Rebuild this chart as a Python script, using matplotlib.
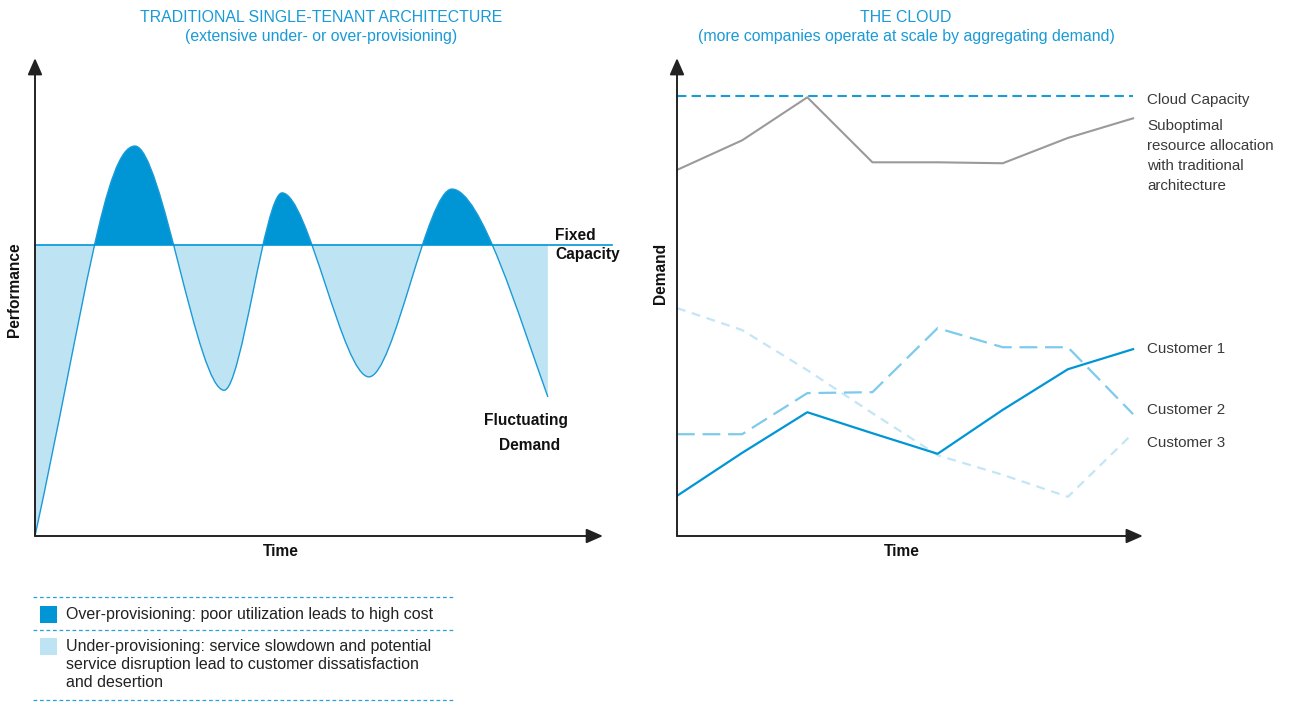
import matplotlib
matplotlib.use("Agg")
import matplotlib.pyplot as plt
from matplotlib.path import Path
from matplotlib.patches import PathPatch, Rectangle

# left panel: fluctuating demand, key points (time, performance)
demand_t = [0, 17.6, 33.3, 43.5, 58.8, 73.4, 90.3]
demand_p = [0, 81.6, 30.5, 71.8, 33.3, 72.6, 29.1]
fixed_capacity = 60.9

# right panel: demand per period
periods = [0, 1, 2, 3, 4, 5, 6, 7]
cloud_capacity = 92.1
suboptimal = [76.6, 82.8, 91.8, 78.2, 78.2, 78.0, 83.3, 87.4]
customer1 = [8.4, 17.4, 25.9, 21.5, 17.2, 26.4, 34.9, 39.1]
customer2 = [21.3, 21.3, 29.9, 30.1, 43.5, 39.5, 39.5, 25.5]
customer3 = [47.7, 43.1, 34.7, 25.7, 16.9, 12.8, 8.2, 21.5]

legend_labels = [
    "Over-provisioning: poor utilization leads to high cost",
    "Under-provisioning: service slowdown and potential\n"
    "service disruption lead to customer dissatisfaction\nand desertion",
]

BLUE = "#0096d6"
LIGHT = "#bee4f4"
TITLE = "#1a9ad6"
TXT = "#3a3a3a"
plt.rcParams["font.family"] = ["Liberation Sans", "DejaVu Sans"]

W, H = 1291, 702
fig = plt.figure(figsize=(W / 100, H / 100), dpi=100)


def box(x0, x1, y_bottom, y_top):
    return [x0 / W, 1 - y_bottom / H, (x1 - x0) / W, (y_bottom - y_top) / H]


def axis_arrows(ax, xend, yend):
    style = dict(arrowstyle="-|>,head_length=0.5,head_width=0.22",
                 mutation_scale=20, color="#222222", lw=1.4,
                 shrinkA=0, shrinkB=0)
    ax.annotate("", xy=(xend, 0), xytext=(0, 0), arrowprops=style,
                annotation_clip=False)
    ax.annotate("", xy=(0, yend), xytext=(0, 0), arrowprops=style,
                annotation_clip=False)


# ---- left panel
ax1 = fig.add_axes(box(35, 620, 536, 50))
ax1.set_xlim(0, 103)
ax1.set_ylim(0, 101.7)
ax1.axis("off")

# smooth curve through the key points (horizontal tangents at extremes)
start_slope, end_slope = 5.5, -3.3
verts = [(demand_t[0], demand_p[0])]
codes = [Path.MOVETO]
n = len(demand_t)
for i in range(n - 1):
    t0, p0, t1, p1 = demand_t[i], demand_p[i], demand_t[i + 1], demand_p[i + 1]
    dx = t1 - t0
    if i == 0:
        c1 = (t0 + 0.5 * dx, p0 + 0.5 * dx * start_slope)
    else:
        c1 = (t0 + 0.3 * dx, p0)
    if i == n - 2:
        c2 = (t1 - 0.3 * dx, p1 - 0.3 * dx * end_slope)
    else:
        c2 = (t1 - 0.3 * dx, p1)
    verts += [c1, c2, (t1, p1)]
    codes += [Path.CURVE4] * 3
curve = Path(verts, codes)

t_end = demand_t[-1]
under = Path(verts + [(t_end, 0), (0, 0), (0, 0)],
             codes + [Path.LINETO, Path.LINETO, Path.CLOSEPOLY])
above = Path(verts + [(t_end, 300), (0, 300), (0, 0)],
             codes + [Path.LINETO, Path.LINETO, Path.CLOSEPOLY])

over = Rectangle((0, fixed_capacity), t_end, 100, facecolor=BLUE, lw=0)
ax1.add_patch(over)
over.set_clip_path(under, ax1.transData)
short = Rectangle((0, 0), t_end, fixed_capacity, facecolor=LIGHT, lw=0)
ax1.add_patch(short)
short.set_clip_path(above, ax1.transData)

ax1.add_patch(PathPatch(curve, fill=False, edgecolor="#1a9ad6", lw=1.0))
ax1.plot([0, 101.6], [fixed_capacity, fixed_capacity], color=BLUE, lw=1.2,
         clip_on=False)
axis_arrows(ax1, 100, 100)

# ---- right panel
ax2 = fig.add_axes(box(677, 1150, 536, 50))
ax2.set_xlim(0, 7.26)
ax2.set_ylim(0, 101.7)
ax2.axis("off")

ax2.plot([0, 7], [cloud_capacity, cloud_capacity], color="#1a9ad6", lw=1.5,
         dashes=(4.5, 2.5))
ax2.plot(periods, suboptimal, color="#9a9a9a", lw=1.5)
ax2.plot(periods, customer3, color="#c3e6f6", lw=1.6, dashes=(4, 3))
ax2.plot(periods, customer2, color="#7ccbec", lw=1.6, dashes=(8, 3.5))
ax2.plot(periods, customer1, color=BLUE, lw=1.6)
axis_arrows(ax2, 7.15, 100)

# ---- overlay for text and legend (pixel coordinates)
ov = fig.add_axes([0, 0, 1, 1])
ov.set_xlim(0, W)
ov.set_ylim(H, 0)
ov.axis("off")

for cx, lines in [(321, ["TRADITIONAL SINGLE-TENANT ARCHITECTURE",
                         "(extensive under- or over-provisioning)"]),
                  (906, ["THE CLOUD",
                         "(more companies operate at scale by aggregating demand)"])]:
    for y, s in zip([17, 37], lines):
        ov.text(cx, y, s, ha="center", va="center", fontsize=11.4,
                color=TITLE)

bold = dict(fontsize=11.2, fontweight="bold", color="#111111")
ov.text(555, 236, "Fixed", ha="left", va="center", **bold)
ov.text(555, 254, "Capacity", ha="left", va="center", **bold)
ov.text(526, 421, "Fluctuating", ha="center", va="center", **bold)
ov.text(530, 446, "Demand", ha="center", va="center", **bold)
ov.text(15, 290, "Performance", rotation=90, ha="center", va="center", **bold)
ov.text(281, 552, "Time", ha="center", va="center", **bold)
ov.text(902, 552, "Time", ha="center", va="center", **bold)
ov.text(661, 273, "Demand", rotation=90, ha="center", va="center", **bold)

lab = dict(fontsize=10.9, color=TXT, ha="left", va="center")
ov.text(1147, 100, "Cloud Capacity", **lab)
for y, s in zip([126, 146, 166, 186], ["Suboptimal", "resource allocation",
                                       "with traditional", "architecture"]):
    ov.text(1147, y, s, **lab)
ov.text(1147, 349, "Customer 1", **lab)
ov.text(1147, 410, "Customer 2", **lab)
ov.text(1147, 443, "Customer 3", **lab)

# legend
for y in [597, 630, 700]:
    ov.plot([33, 453], [y, y], color="#2aa0d8", lw=0.9, dashes=(3, 2.2))
ov.add_patch(Rectangle((40, 606), 17, 17, facecolor=BLUE, lw=0))
ov.add_patch(Rectangle((40, 638), 17, 17, facecolor=LIGHT, lw=0))
ov.text(66, 614, legend_labels[0], fontsize=11.5, color="#222222",
        ha="left", va="center")
ov.text(66, 664.5, legend_labels[1], fontsize=11.5, color="#222222",
        ha="left", va="center", linespacing=1.24)

fig.savefig("out.png", dpi=100)
